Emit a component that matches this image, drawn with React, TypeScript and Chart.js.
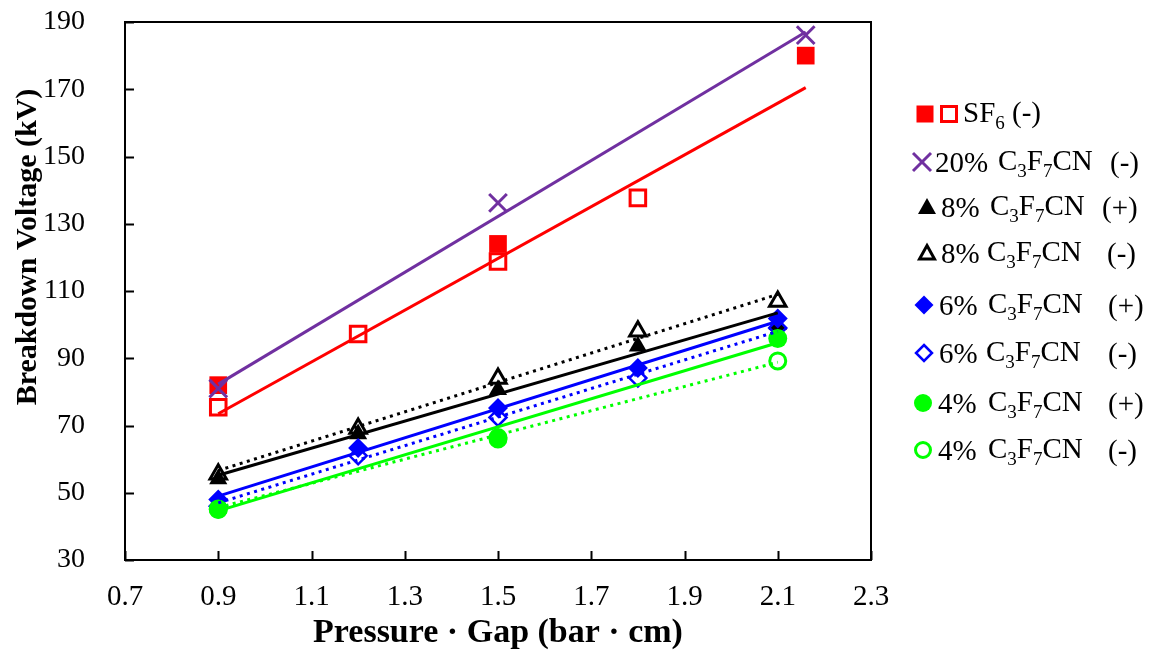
import React, { useEffect, useRef } from 'react';
import { Chart, registerables } from 'chart.js';

Chart.register(...registerables);

// ---------- axis ticks ----------
const xTicks = [0.7, 0.9, 1.1, 1.3, 1.5, 1.7, 1.9, 2.1, 2.3];
const yTicks = [30, 50, 70, 90, 110, 130, 150, 170, 190];

// ---------- measured points ----------
const sf6FilledX = [0.9, 1.5, 2.16];
const sf6FilledY = [82, 124, 180];
const sf6OpenX = [0.9, 1.2, 1.5, 1.8];
const sf6OpenY = [75.4, 97.2, 118.8, 137.7];
const mix20NegX = [0.9, 1.5, 2.16];
const mix20NegY = [81, 136.2, 186.1];
const mix8PosX = [0.9, 1.2, 1.5, 1.8, 2.1];
const mix8PosY = [54.1, 67.5, 80.6, 93.6, 100];
const mix8NegX = [0.9, 1.2, 1.5, 1.8, 2.1];
const mix8NegY = [55.5, 69.1, 84, 98, 106.9];
const mix6PosX = [0.9, 1.2, 1.5, 1.8, 2.1];
const mix6PosY = [48, 63.3, 75.2, 87.1, 101.8];
const mix6NegX = [0.9, 1.2, 1.5, 1.8, 2.1];
const mix6NegY = [46, 61, 72.4, 84.1, 99];
const mix4PosX = [0.9, 1.5, 2.1];
const mix4PosY = [45.2, 66.4, 95.9];
const mix4NegX = [0.9, 1.5, 2.1];
const mix4NegY = [45, 66, 89.2];

// ---------- trend lines (endpoints) ----------
const trendSF6X = [0.9, 2.16];
const trendSF6Y = [73.5, 170.5];
const trend20X = [0.9, 2.16];
const trend20Y = [82.3, 187];
const trend8PosX = [0.9, 2.1];
const trend8PosY = [55.2, 103.5];
const trend8NegX = [0.9, 2.1];
const trend8NegY = [56.6, 109];
const trend6PosX = [0.9, 2.1];
const trend6PosY = [49, 101];
const trend6NegX = [0.9, 2.1];
const trend6NegY = [47, 98];
const trend4PosX = [0.9, 2.1];
const trend4PosY = [44.6, 94.6];
const trend4NegX = [0.9, 2.1];
const trend4NegY = [45.6, 88.8];

const xTitle = 'Pressure · Gap (bar · cm)';
const yTitle = 'Breakdown Voltage (kV)';

const RED = '#FF0000';
const PURPLE = '#7030A0';
const BLUE = '#0000FF';
const GREEN = '#00FF00';
const BLACK = '#000000';
const SERIF = '"Liberation Serif", "Times New Roman", serif';

const pts = (xs: number[], ys: number[]) => xs.map((x, i) => ({ x, y: ys[i] }));

const framePlugin = {
  id: 'frame',
  beforeDatasetsDraw(chart: any) {
    const { ctx, chartArea: a, scales } = chart;
    ctx.save();
    ctx.strokeStyle = '#000';
    ctx.lineWidth = 2;
    ctx.strokeRect(a.left, a.top, a.right - a.left, a.bottom - a.top);
    ctx.beginPath();
    xTicks.forEach((v) => {
      const px = Math.round(scales.x.getPixelForValue(v)) + 0.5;
      ctx.moveTo(px, a.bottom);
      ctx.lineTo(px, a.bottom - 9);
    });
    yTicks.forEach((v) => {
      const py = Math.round(scales.y.getPixelForValue(v)) + 0.5;
      ctx.moveTo(a.left, py);
      ctx.lineTo(a.left + 9, py);
    });
    ctx.stroke();
    ctx.restore();
  },
  afterDraw(chart: any) {
    const { ctx } = chart;
    ctx.save();
    ctx.translate(28, 247);
    ctx.rotate(-Math.PI / 2);
    ctx.font = 'bold 30px ' + SERIF;
    ctx.fillStyle = '#000';
    ctx.textAlign = 'center';
    ctx.textBaseline = 'middle';
    ctx.fillText(yTitle, 0, 0);
    ctx.restore();
  },
};

function markerDataset(label: string, xs: number[], ys: number[], style: any, order: number) {
  return {
    label,
    data: pts(xs, ys),
    showLine: false,
    order,
    ...style,
  };
}

function trendDataset(label: string, xs: number[], ys: number[], color: string, dotted: boolean) {
  return {
    label,
    data: pts(xs, ys),
    showLine: true,
    borderColor: color,
    borderWidth: 3,
    borderDash: dotted ? [3, 4.5] : [],
    pointRadius: 0,
    pointHoverRadius: 0,
    fill: false,
    order: -1,
  };
}

function Sub({ children }: { children: React.ReactNode }) {
  return <span style={{ fontSize: 19, position: 'relative', top: 7 }}>{children}</span>;
}

const Formula = () => (
  <span>
    C<Sub>3</Sub>F<Sub>7</Sub>CN
  </span>
);

const txt: React.CSSProperties = {
  position: 'absolute',
  fontFamily: SERIF,
  fontSize: 29,
  lineHeight: '30px',
  color: '#000',
  whiteSpace: 'nowrap',
  transform: 'translateY(-50%)',
};

function Marker({ kind, cx, cy }: { kind: string; cx: number; cy: number }) {
  const s = 24;
  let shape: React.ReactNode = null;
  const c = s / 2;
  switch (kind) {
    case 'sqF':
      shape = <rect x={c - 8.5} y={c - 8.5} width={17} height={17} fill={RED} />;
      break;
    case 'sqO':
      shape = <rect x={c - 7.5} y={c - 7.5} width={15} height={15} fill="none" stroke={RED} strokeWidth={3} />;
      break;
    case 'cross':
      shape = (
        <g stroke={PURPLE} strokeWidth={3}>
          <line x1={c - 9} y1={c - 9} x2={c + 9} y2={c + 9} />
          <line x1={c - 9} y1={c + 9} x2={c + 9} y2={c - 9} />
        </g>
      );
      break;
    case 'triF':
      shape = <polygon points={`${c},${c - 9} ${c + 9},${c + 7} ${c - 9},${c + 7}`} fill={BLACK} />;
      break;
    case 'triO':
      shape = <polygon points={`${c},${c - 7.5} ${c + 7.5},${c + 6} ${c - 7.5},${c + 6}`} fill="none" stroke={BLACK} strokeWidth={3} />;
      break;
    case 'diaF':
      shape = <polygon points={`${c},${c - 9.5} ${c + 9.5},${c} ${c},${c + 9.5} ${c - 9.5},${c}`} fill={BLUE} />;
      break;
    case 'diaO':
      shape = <polygon points={`${c},${c - 8} ${c + 8},${c} ${c},${c + 8} ${c - 8},${c}`} fill="none" stroke={BLUE} strokeWidth={2.5} />;
      break;
    case 'cirF':
      shape = <circle cx={c} cy={c} r={9} fill={GREEN} />;
      break;
    case 'cirO':
      shape = <circle cx={c} cy={c} r={7.5} fill="none" stroke={GREEN} strokeWidth={3} />;
      break;
  }
  return (
    <svg width={s} height={s} style={{ position: 'absolute', left: cx - c, top: cy - c }}>
      {shape}
    </svg>
  );
}

type Row = { y: number; kind: string; cx: number; prefix: string; px: number; fx: number; suffix: string; sx: number };

const legendRows: Row[] = [
  { y: 162, kind: 'cross', cx: 922, prefix: '20%', px: 935, fx: 998, suffix: '(-)', sx: 1110 },
  { y: 207, kind: 'triF', cx: 927, prefix: '8%', px: 941, fx: 990, suffix: '(+)', sx: 1102 },
  { y: 253, kind: 'triO', cx: 927, prefix: '8%', px: 941, fx: 987, suffix: '(-)', sx: 1107 },
  { y: 305, kind: 'diaF', cx: 924, prefix: '6%', px: 939, fx: 988, suffix: '(+)', sx: 1108 },
  { y: 353, kind: 'diaO', cx: 924, prefix: '6%', px: 939, fx: 986, suffix: '(-)', sx: 1108 },
  { y: 403, kind: 'cirF', cx: 923, prefix: '4%', px: 938, fx: 988, suffix: '(+)', sx: 1108 },
  { y: 450, kind: 'cirO', cx: 923, prefix: '4%', px: 938, fx: 988, suffix: '(-)', sx: 1108 },
];

function Legend() {
  return (
    <>
      <Marker kind="sqF" cx={924.5} cy={114} />
      <Marker kind="sqO" cx={948.5} cy={114} />
      <div style={{ ...txt, left: 963, top: 114 }}>
        SF<Sub>6</Sub> (-)
      </div>
      {legendRows.map((r, i) => (
        <React.Fragment key={i}>
          <Marker kind={r.kind} cx={r.cx} cy={r.y} />
          <div style={{ ...txt, left: r.px, top: r.y }}>{r.prefix}</div>
          <div style={{ ...txt, left: r.fx, top: r.y }}>
            <Formula />
          </div>
          <div style={{ ...txt, left: r.sx, top: r.y }}>{r.suffix}</div>
        </React.Fragment>
      ))}
    </>
  );
}

export default function App() {
  const ref = useRef<HTMLCanvasElement | null>(null);

  useEffect(() => {
    document.body.style.margin = '0';
    const canvas = ref.current;
    if (!canvas) return;

    const datasets: any[] = [
      markerDataset('SF6 filled', sf6FilledX, sf6FilledY, { pointStyle: 'rect', pointRadius: 12.5, backgroundColor: RED, borderColor: RED, borderWidth: 0 }, 20),
      markerDataset('SF6 open', sf6OpenX, sf6OpenY, { pointStyle: 'rect', pointRadius: 11, backgroundColor: 'rgba(0,0,0,0)', borderColor: RED, borderWidth: 3 }, 19),
      markerDataset('20% (-)', mix20NegX, mix20NegY, { pointStyle: 'crossRot', pointRadius: 12.5, borderColor: PURPLE, backgroundColor: PURPLE, borderWidth: 3 }, 18),
      markerDataset('8% (+)', mix8PosX, mix8PosY, { pointStyle: 'triangle', pointRadius: 10.5, backgroundColor: BLACK, borderColor: BLACK, borderWidth: 0 }, 17),
      markerDataset('8% (-)', mix8NegX, mix8NegY, { pointStyle: 'triangle', pointRadius: 9.5, backgroundColor: 'rgba(0,0,0,0)', borderColor: BLACK, borderWidth: 3 }, 16),
      markerDataset('6% (+)', mix6PosX, mix6PosY, { pointStyle: 'rectRot', pointRadius: 10, backgroundColor: BLUE, borderColor: BLUE, borderWidth: 0 }, 15),
      markerDataset('6% (-)', mix6NegX, mix6NegY, { pointStyle: 'rectRot', pointRadius: 8.5, backgroundColor: 'rgba(0,0,0,0)', borderColor: BLUE, borderWidth: 2.5 }, 14),
      markerDataset('4% (+)', mix4PosX, mix4PosY, { pointStyle: 'circle', pointRadius: 9.5, backgroundColor: GREEN, borderColor: GREEN, borderWidth: 0 }, 13),
      markerDataset('4% (-)', mix4NegX, mix4NegY, { pointStyle: 'circle', pointRadius: 8, backgroundColor: 'rgba(0,0,0,0)', borderColor: GREEN, borderWidth: 3 }, 12),
      trendDataset('SF6 trend', trendSF6X, trendSF6Y, RED, false),
      trendDataset('20% trend', trend20X, trend20Y, PURPLE, false),
      trendDataset('8% + trend', trend8PosX, trend8PosY, BLACK, false),
      trendDataset('8% - trend', trend8NegX, trend8NegY, BLACK, true),
      trendDataset('6% + trend', trend6PosX, trend6PosY, BLUE, false),
      trendDataset('6% - trend', trend6NegX, trend6NegY, BLUE, true),
      trendDataset('4% + trend', trend4PosX, trend4PosY, GREEN, false),
      trendDataset('4% - trend', trend4NegX, trend4NegY, GREEN, true),
    ];

    const chart = new Chart(canvas, {
      type: 'scatter',
      data: { datasets },
      options: {
        animation: false,
        responsive: false,
        devicePixelRatio: 1,
        layout: { padding: { top: 22, right: 286, left: 0, bottom: 0 } },
        plugins: { legend: { display: false }, tooltip: { enabled: false } },
        elements: { line: { tension: 0 } },
        scales: {
          x: {
            type: 'linear',
            min: 0.7,
            max: 2.3,
            afterBuildTicks: (s: any) => {
              s.ticks = xTicks.map((v) => ({ value: v }));
            },
            afterFit: (s: any) => {
              s.height = 95;
              s.paddingLeft = 0;
              s.paddingRight = 0;
            },
            grid: { display: false, drawTicks: false },
            border: { display: false },
            ticks: {
              autoSkip: false,
              maxRotation: 0,
              padding: 20,
              color: '#000',
              font: { family: SERIF, size: 29 },
              callback: (v: any) => Number(v).toFixed(1),
            },
            title: {
              display: true,
              text: xTitle,
              color: '#000',
              font: { family: SERIF, size: 34, weight: 'bold' },
              padding: { top: 0, bottom: 1 },
            },
          },
          y: {
            type: 'linear',
            min: 30,
            max: 190,
            afterBuildTicks: (s: any) => {
              s.ticks = yTicks.map((v) => ({ value: v }));
            },
            afterFit: (s: any) => {
              s.width = 125;
              s.paddingTop = 0;
              s.paddingBottom = 0;
            },
            grid: { display: false, drawTicks: false },
            border: { display: false },
            ticks: {
              autoSkip: false,
              padding: 40,
              color: '#000',
              font: { family: SERIF, size: 28 },
              callback: (v: any) => String(v),
            },
          },
        },
      },
      plugins: [framePlugin],
    } as any);

    return () => chart.destroy();
  }, []);

  return (
    <div style={{ position: 'relative', width: 1157, height: 655, background: '#fff' }}>
      <canvas ref={ref} width={1157} height={655} style={{ display: 'block' }} />
      <Legend />
    </div>
  );
}
